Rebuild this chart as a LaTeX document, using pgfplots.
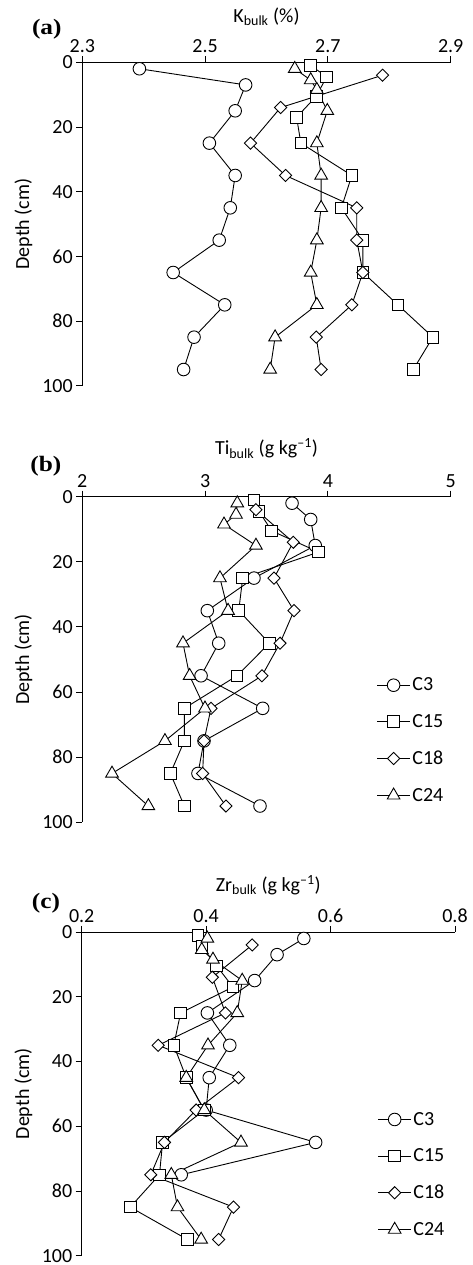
\documentclass[border=0pt]{standalone}
\usepackage{fontspec}
\setmainfont{Carlito}
\newfontfamily\tnr{Liberation Serif}
\usepackage{pgfplots}
\pgfplotsset{compat=1.18}
\newcommand\fs{\fontsize{20}{24}\selectfont}
\pgfplotsset{
  myaxis/.style={
    scale only axis,
    anchor=south west,
    y dir=reverse,
    ymin=0, ymax=100,
    ytick={0,20,40,60,80,100},
    enlargelimits=false,
    axis x line*=top,
    axis y line*=left,
    tick align=outside,
    major tick length=6pt,
    every tick label/.append style={font=\fs},
    /pgf/number format/assume math mode=true,
    axis line style={line width=0.9pt, black},
    every tick/.append style={line width=0.9pt, black},
    clip=false,
    legend image code/.code={\draw[mark repeat=2,mark phase=2,##1] plot coordinates {(0pt,0pt) (16.3pt,0pt) (32.6pt,0pt)};},
  },
  sC3/.style={black, line width=0.9pt, mark=*, mark size=6.3pt, mark options={fill=white, draw=black, line width=0.9pt}},
  sC15/.style={black, line width=0.9pt, mark=square*, mark size=5.8pt, mark options={fill=white, draw=black, line width=0.9pt}},
  sC18/.style={black, line width=0.9pt, mark=square*, mark size=4.3pt, mark options={fill=white, draw=black, line width=0.9pt, rotate=45}},
  sC24/.style={black, line width=0.9pt, mark=triangle*, mark size=7.3pt, mark options={fill=white, draw=black, line width=0.9pt}},
}
\begin{document}
\begin{tikzpicture}
\useasboundingbox (0pt,0pt) rectangle (473pt,1265pt);
% ---------------- (a) ----------------
\begin{axis}[myaxis, at={(82.3pt,879.3pt)}, width=368.4pt, height=323.4pt,
  xmin=2.3, xmax=2.9, xtick={2.3,2.5,2.7,2.9},
  xticklabel style={/pgf/number format/fixed, /pgf/number format/precision=1, /pgf/number format/fixed zerofill}]
\addplot[sC3] coordinates {(2.393,2) (2.566,7) (2.549,15) (2.507,25) (2.549,35) (2.541,45) (2.523,55) (2.448,65) (2.532,75) (2.482,85) (2.465,95)};
\addplot[sC15] coordinates {(2.672,1) (2.698,4.5) (2.681,10.5) (2.649,17) (2.656,25) (2.739,35) (2.722,45) (2.757,55) (2.757,65) (2.814,75) (2.871,85) (2.839,95)};
\addplot[sC18] coordinates {(2.789,4) (2.623,14) (2.574,25) (2.631,35) (2.747,45) (2.747,55) (2.757,65) (2.739,75) (2.681,85) (2.689,95)};
\addplot[sC24] coordinates {(2.646,2) (2.672,5.5) (2.682,8.5) (2.699,15) (2.682,25) (2.689,35) (2.689,45) (2.682,55) (2.672,65) (2.682,75) (2.614,85) (2.606,95)};
\end{axis}
% ---------------- (b) ----------------
\begin{axis}[myaxis, at={(82.3pt,442.7pt)}, width=368.4pt, height=325.6pt,
  xmin=2, xmax=5, xtick={2,3,4,5},
  legend style={draw=none, fill=none, font=\fs, at={(axis description cs:0.799,0.45)}, anchor=north west, row sep=18pt, inner sep=0pt},
  legend cell align=left]
\addplot[sC3] coordinates {(3.708,2) (3.860,7) (3.897,15) (3.398,25) (3.018,35) (3.111,45) (2.967,55) (3.469,65) (2.991,75) (2.942,85) (3.447,95)};
\addlegendentry{C3}
\addplot[sC15] coordinates {(3.398,1) (3.439,4.5) (3.542,10.5) (3.925,17) (3.306,25) (3.274,35) (3.523,45) (3.260,55) (2.831,65) (2.831,75) (2.717,85) (2.831,95)};
\addlegendentry{C15}
\addplot[sC18] coordinates {(3.414,4) (3.718,14) (3.561,25) (3.724,35) (3.610,45) (3.463,55) (3.048,65) (2.991,75) (2.980,85) (3.170,95)};
\addlegendentry{C18}
\addplot[sC24] coordinates {(3.262,2) (3.252,5.5) (3.154,8.5) (3.414,15) (3.121,25) (3.187,35) (2.820,45) (2.874,55) (2.999,65) (2.673,75) (2.242,85) (2.538,95)};
\addlegendentry{C24}
\end{axis}
% ---------------- (c) ----------------
\begin{axis}[myaxis, at={(81.7pt,9.3pt)}, width=373.3pt, height=323.7pt,
  xmin=0.2, xmax=0.8, xtick={0.2,0.4,0.6,0.8},
  xticklabel style={/pgf/number format/fixed, /pgf/number format/precision=1, /pgf/number format/fixed zerofill},
  legend style={draw=none, fill=none, font=\fs, at={(axis description cs:0.793,0.45)}, anchor=north west, row sep=18pt, inner sep=0pt},
  legend cell align=left]
\addplot[sC3] coordinates {(0.557,2) (0.514,7) (0.478,15) (0.402,25) (0.438,35) (0.405,45) (0.400,55) (0.576,65) (0.360,75)};
\addlegendentry{C3}
\addplot[sC15] coordinates {(0.387,1) (0.393,4.5) (0.417,10.5) (0.443,17) (0.359,25) (0.348,35) (0.368,45) (0.397,55) (0.330,65) (0.325,75) (0.278,85) (0.370,95)};
\addlegendentry{C15}
\addplot[sC18] coordinates {(0.474,4) (0.410,14) (0.431,25) (0.323,35) (0.452,45) (0.384,55) (0.333,65) (0.311,75) (0.444,85) (0.420,95)};
\addlegendentry{C18}
\addplot[sC24] coordinates {(0.402,2) (0.393,5.5) (0.411,8.5) (0.458,15) (0.450,25) (0.403,35) (0.368,45) (0.397,55) (0.456,65) (0.344,75) (0.354,85) (0.392,95)};
\addlegendentry{C24}
\end{axis}
% ---------------- text ----------------
\node[font=\tnr\bfseries\fontsize{22}{26}\selectfont, xscale=1.15] at (46.8pt,1235.3pt) {(a)};
\node[font=\tnr\bfseries\fontsize{22}{26}\selectfont, xscale=1.15] at (45.8pt,798.3pt) {(b)};
\node[font=\tnr\bfseries\fontsize{22}{26}\selectfont, xscale=1.15] at (46pt,361.7pt) {(c)};
\node[font=\fs, anchor=base] at (266.5pt,1242.3pt) {K\textsubscript{bulk} (\%)};
\node[font=\fs, anchor=base] at (266.5pt,810pt) {Ti\textsubscript{bulk} (g kg\textsuperscript{–1})};
\node[font=\fs, anchor=base] at (268.3pt,373.3pt) {Zr\textsubscript{bulk} (g kg\textsuperscript{–1})};
\node[font=\fs, rotate=90] at (23.3pt,1041pt) {Depth (cm)};
\node[font=\fs, rotate=90] at (23.3pt,605.5pt) {Depth (cm)};
\node[font=\fs, rotate=90] at (23.3pt,171.2pt) {Depth (cm)};
\end{tikzpicture}
\end{document}
